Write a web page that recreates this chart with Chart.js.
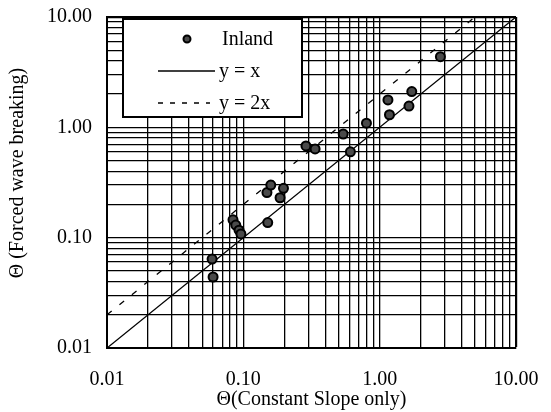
<!DOCTYPE html>
<html>
<head>
<meta charset="utf-8">
<script src="https://cdn.jsdelivr.net/npm/chart.js@4/dist/chart.umd.min.js"></script>
<style>
  html, body { margin: 0; padding: 0; background: #fff; }
  canvas { display: block; }
</style>
</head>
<body>
<canvas id="chart" width="551" height="412"></canvas>
<script>
// Θ values per site: constant-slope-only run vs. forced wave breaking run
const thetaConstantSlope = [0.059, 0.060, 0.084, 0.088, 0.093, 0.096, 0.151, 0.149, 0.159, 0.186, 0.197,
                            0.288, 0.336, 0.54, 0.61, 0.80, 1.15, 1.18, 1.64, 1.72, 2.79];
const thetaForcedBreaking = [0.064, 0.044, 0.145, 0.130, 0.117, 0.108, 0.137, 0.256, 0.300, 0.230, 0.280,
                             0.678, 0.637, 0.87, 0.60, 1.09, 1.77, 1.30, 1.56, 2.11, 4.37];

// reference lines y = x and y = 2x (end points)
const identityX = [0.01, 10];
const identityY = [0.01, 10];
const doubleX = [0.01, 5];
const doubleY = [0.02, 10];

// labelled decades on both axes
const decadeTicks = [0.01, 0.1, 1, 10];
const decadeLabels = ['0.01', '0.10', '1.00', '10.00'];

const seriesNames = ['Inland', 'y = x', 'y = 2x'];
const xAxisTitle = 'Θ(Constant Slope only)';
const yAxisTitle = 'Θ (Forced wave breaking)';

const FONT = 'Liberation Serif';
const INK = '#000';

// full log grid: 1..9 in every decade between 0.01 and 10
function logGridValues() {
  const vals = [];
  for (let d = 0; d < decadeTicks.length - 1; d++) {
    for (let m = 1; m <= 9; m++) vals.push(+(decadeTicks[d] * m).toPrecision(3));
  }
  vals.push(decadeTicks[decadeTicks.length - 1]);
  return vals;
}

function decadeLabel(value) {
  const i = decadeTicks.findIndex(t => Math.abs(t - value) / t < 1e-6);
  return i >= 0 ? decadeLabels[i] : '';
}

function gridWidth(ctx) {
  const v = ctx.tick && ctx.tick.value;
  return Math.abs(v - 10) < 1e-9 ? 2.2 : 1.3;
}

const pairs = (xs, ys) => xs.map((x, i) => ({ x, y: ys[i] }));

// y-axis title and the boxed legend drawn over the plot
const overlay = {
  id: 'overlay',
  afterDraw(chart) {
    const c = chart.ctx;
    const ds = chart.data.datasets;
    c.save();
    // y-axis title
    c.fillStyle = INK;
    c.font = `20px "${FONT}"`;
    c.textAlign = 'center';
    c.textBaseline = 'middle';
    c.translate(18, 173);
    c.rotate(-Math.PI / 2);
    c.fillText(yAxisTitle, 0, 0);
    c.restore();

    // legend box
    c.save();
    c.fillStyle = '#fff';
    c.fillRect(123, 19, 179, 98);
    c.strokeStyle = INK;
    c.lineWidth = 2;
    c.strokeRect(123, 19, 179, 98);

    c.font = `20px "${FONT}"`;
    c.fillStyle = INK;
    c.textAlign = 'left';
    c.textBaseline = 'middle';

    // marker row
    c.beginPath();
    c.arc(187, 39, 3.5, 0, Math.PI * 2);
    c.fillStyle = ds[0].pointBackgroundColor;
    c.fill();
    c.lineWidth = 2;
    c.strokeStyle = ds[0].pointBorderColor;
    c.stroke();
    c.fillStyle = INK;
    c.fillText(ds[0].label, 222, 40);

    // solid line row
    c.beginPath();
    c.lineWidth = ds[1].borderWidth;
    c.strokeStyle = ds[1].borderColor;
    c.moveTo(158, 71);
    c.lineTo(215, 71);
    c.stroke();
    c.fillText(ds[1].label, 219, 72);

    // dashed line row
    c.beginPath();
    c.setLineDash([5, 7]);
    c.lineWidth = ds[2].borderWidth;
    c.strokeStyle = ds[2].borderColor;
    c.moveTo(158, 103);
    c.lineTo(210, 103);
    c.stroke();
    c.setLineDash([]);
    c.fillText(ds[2].label, 219, 104);
    c.restore();
  }
};

const axisCommon = {
  type: 'logarithmic',
  min: 0.01,
  max: 10,
  afterBuildTicks(scale) {
    scale.ticks = logGridValues().map(v => ({ value: v }));
  },
  ticks: {
    autoSkip: false,
    maxRotation: 0,
    minRotation: 0,
    color: INK,
    font: { family: FONT, size: 20 },
    callback: (value) => decadeLabel(value)
  },
  grid: { color: INK, lineWidth: gridWidth, drawTicks: false },
  border: { color: INK, width: 2 }
};

new Chart(document.getElementById('chart'), {
  data: {
    datasets: [
      {
        type: 'scatter',
        label: seriesNames[0],
        data: pairs(thetaConstantSlope, thetaForcedBreaking),
        pointRadius: 4.5,
        pointBackgroundColor: '#4a4a4a',
        pointBorderColor: '#000',
        pointBorderWidth: 2,
        order: 0
      },
      {
        type: 'line',
        label: seriesNames[1],
        data: pairs(identityX, identityY),
        borderColor: '#000',
        borderWidth: 1.3,
        pointRadius: 0,
        fill: false,
        order: 1
      },
      {
        type: 'line',
        label: seriesNames[2],
        data: pairs(doubleX, doubleY),
        borderColor: '#000',
        borderWidth: 1.3,
        borderDash: [6, 10],
        pointRadius: 0,
        fill: false,
        order: 2
      }
    ]
  },
  options: {
    responsive: false,
    animation: false,
    devicePixelRatio: 1,
    layout: { padding: { top: 17, right: 35, bottom: 0, left: 0 } },
    plugins: {
      legend: { display: false },
      tooltip: { enabled: false }
    },
    scales: {
      x: {
        ...axisCommon,
        position: 'bottom',
        ticks: { ...axisCommon.ticks, padding: 20 },
        afterFit(scale) {
          scale.height = 64;
          scale.paddingLeft = 0;
          scale.paddingRight = 0;
        },
        title: {
          display: true,
          text: xAxisTitle,
          color: INK,
          font: { family: FONT, size: 20 },
          padding: { top: 0, bottom: 0 }
        }
      },
      y: {
        ...axisCommon,
        position: 'left',
        ticks: { ...axisCommon.ticks, padding: 15 },
        afterFit(scale) {
          scale.width = 107;
          scale.paddingTop = 0;
          scale.paddingBottom = 0;
        }
      }
    }
  },
  plugins: [overlay]
});
</script>
</body>
</html>
